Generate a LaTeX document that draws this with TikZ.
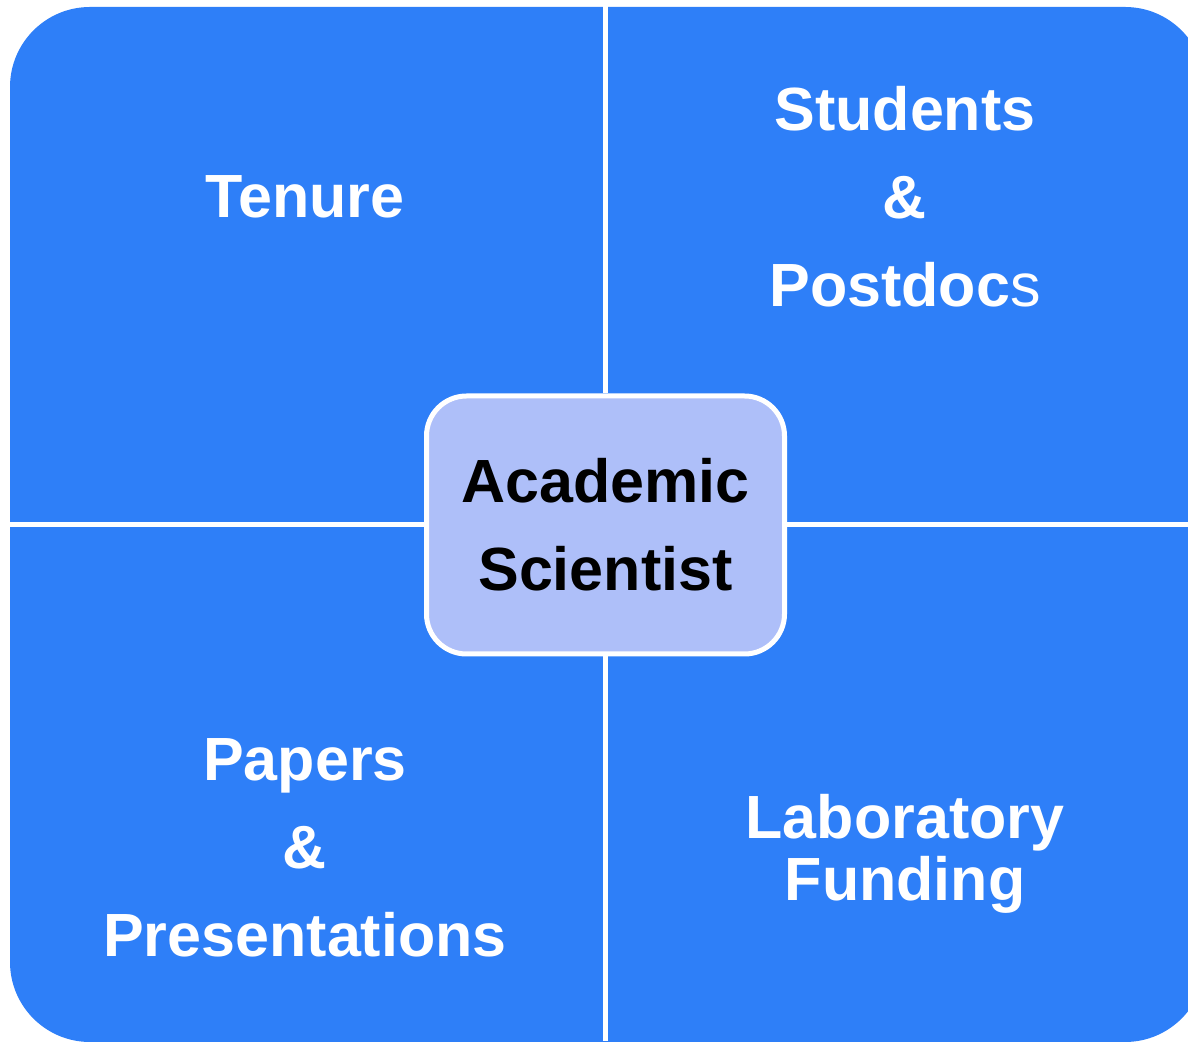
\documentclass[tikz,border=0pt]{standalone}
\usepackage{fontspec}
\setmainfont{Liberation Sans}
\usepackage{tikz}
\definecolor{quadblue}{HTML}{2E7FF8}
\definecolor{corefill}{HTML}{AEBFF9}
\tikzset{
  quadtext/.style={text=white, align=center, font=\bfseries\fontsize{61}{88}\selectfont},
  sepline/.style={draw=white, line width=5pt},
  corebox/.style={draw=white, line width=5pt, fill=corefill, rounded corners=40pt,
    minimum width=358pt, minimum height=258pt, inner sep=0pt, align=center,
    font=\bfseries\fontsize{61}{88}\selectfont}
}
\begin{document}
\begin{tikzpicture}[x=1pt,y=1pt]
		%%%%% START %%%%%
		\clip (0,0) rectangle (1188,1041);
		
		% blue field behind the four quadrants
		\fill[quadblue, rounded corners=80pt] (10,-1) rectangle (1205,1034);
		
		% centre box and the points where the white separators end
		\node[corebox] (academic) at (605.5,516) {Academic\\Scientist};
		\coordinate (top) at (605.5,1041);
		\coordinate (bottom) at (605.5,0);
		\coordinate (lft) at (0,516);
		\coordinate (rgt) at (1188,516);
		
		\draw[sepline] (academic.north) -- (top);
		\draw[sepline] (academic.south) -- (bottom);
		\draw[sepline] (academic.west) -- (lft);
		\draw[sepline] (academic.east) -- (rgt);
		
		% quadrant labels
		\node[quadtext] (tenure) at (305,844) {Tenure};
		\node[quadtext] (students) at (905,844) {Students\\\&\\Postdoc{\mdseries s}};
		\node[quadtext] (papers) at (305,193) {Papers\\\&\\Presentations};
		\node[quadtext, font=\bfseries\fontsize{61}{62}\selectfont] (funding) at (905,187) {Laboratory\\Funding};
		
		%%%%% END %%%%%
\end{tikzpicture}
\end{document}
